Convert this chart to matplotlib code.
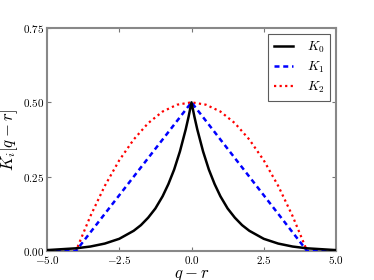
import matplotlib
matplotlib.use("Agg")
import matplotlib.pyplot as plt
from matplotlib.ticker import FormatStrFormatter

plt.rcParams['mathtext.fontset'] = 'cm'
plt.rcParams['font.family'] = ['DejaVu Serif']

# K0 (symmetric cusp)
k0_x = [-5.0, -4.5, -4.0, -3.5, -3.0, -2.5, -2.0, -1.75, -1.5, -1.25, -1.0, -0.8, -0.6, -0.4, -0.2, -0.1, 0.0,
        0.1, 0.2, 0.4, 0.6, 0.8, 1.0, 1.25, 1.5, 1.75, 2.0, 2.5, 3.0, 3.5, 4.0, 4.5, 5.0]
k0_y = [0.003, 0.006, 0.009, 0.015, 0.025, 0.041, 0.068, 0.087, 0.112, 0.143, 0.184, 0.225, 0.274, 0.335, 0.409, 0.452, 0.5,
        0.452, 0.409, 0.335, 0.274, 0.225, 0.184, 0.143, 0.112, 0.087, 0.068, 0.041, 0.025, 0.015, 0.009, 0.006, 0.003]

# K1 triangle
k1_x = [-5.0, -4.0, 0.0, 4.0, 5.0]
k1_y = [0.0, 0.0, 0.5, 0.0, 0.0]

# K2 parabola-like
k2_x = [-5.0, -4.0, -3.5, -3.0, -2.5, -2.0, -1.5, -1.0, -0.5, 0.0, 0.5, 1.0, 1.5, 2.0, 2.5, 3.0, 3.5, 4.0, 5.0]
k2_y = [0.0, 0.0, 0.117, 0.219, 0.305, 0.375, 0.430, 0.469, 0.492, 0.5, 0.492, 0.469, 0.430, 0.375, 0.305, 0.219, 0.117, 0.0, 0.0]

xticks = [-5.0, -2.5, 0.0, 2.5, 5.0]
yticks = [0.0, 0.25, 0.5, 0.75]

fig = plt.figure(figsize=(3.74, 2.8), dpi=100)
ax = fig.add_axes([47/374, 1 - 251/280, (336-47)/374, (251-28)/280])

ax.plot(k2_x, k2_y, color='red', ls=(0, (1, 1.5)), lw=1.6, label=r'$K_2$', zorder=2)
ax.plot(k1_x, k1_y, color='blue', ls=(0, (2, 1.5)), lw=1.8, label=r'$K_1$', zorder=3)
ax.plot(k0_x, k0_y, color='black', lw=1.8, label=r'$K_0$', zorder=4)

ax.set_xlim(-5, 5)
ax.set_ylim(0, 0.75)
ax.set_xticks(xticks)
ax.set_yticks(yticks)
ax.xaxis.set_major_formatter(FormatStrFormatter(r'$%.1f$'))
ax.yaxis.set_major_formatter(FormatStrFormatter(r'$%.2f$'))
ax.tick_params(direction='in', top=True, right=True, labelsize=8, length=3, color='#777777', pad=2)
for s in ax.spines.values():
    s.set_color('#888888')
    s.set_linewidth(1.5)

ax.set_xlabel(r'$q-r$', fontsize=12, labelpad=0)
ax.set_ylabel(r'$K_i[q-r]$', fontsize=12, labelpad=2)

h, l = ax.get_legend_handles_labels()
leg = ax.legend(h[::-1], l[::-1], loc='upper right', fontsize=9.5, fancybox=False,
                edgecolor='#333333', handlelength=1.5, handletextpad=1.0,
                borderpad=0.45, labelspacing=0.35, borderaxespad=0.45)
leg.get_frame().set_linewidth(0.8)

fig.savefig('out.png', dpi=100)
